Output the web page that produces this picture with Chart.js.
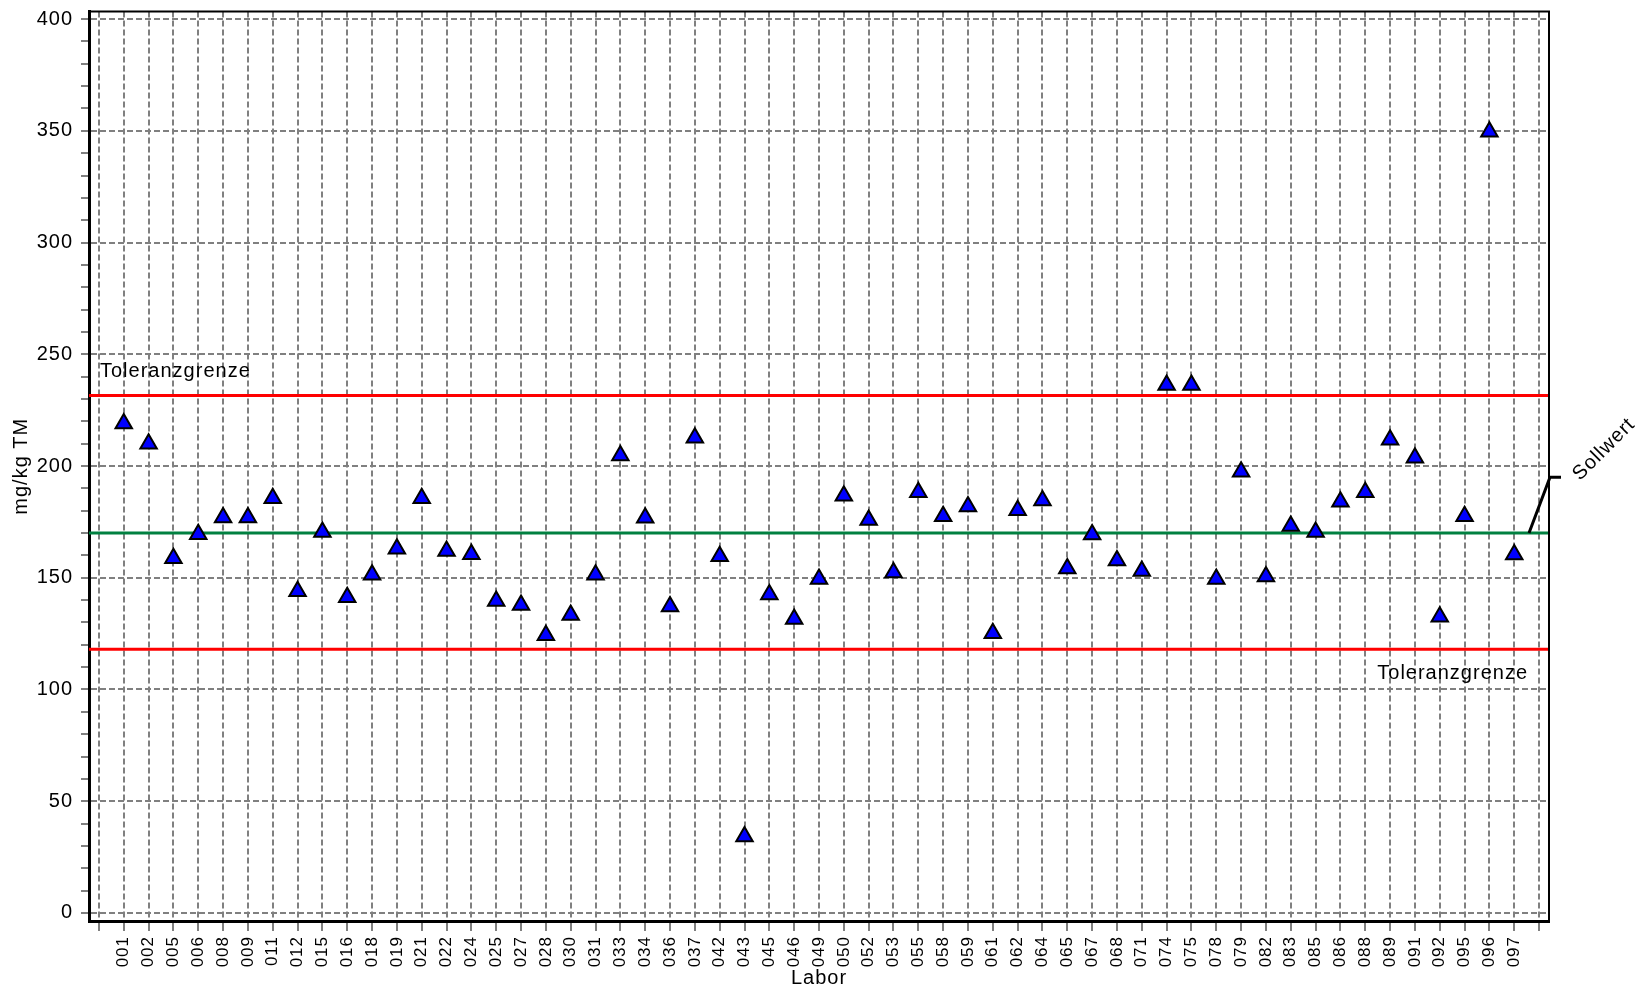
<!DOCTYPE html>
<html>
<head>
<meta charset="utf-8">
<title>Labor</title>
<script src="https://cdn.jsdelivr.net/npm/chart.js@4.4.1/dist/chart.umd.min.js"></script>
<style>
  html, body { margin: 0; padding: 0; background: #fff; }
  #wrap { position: relative; width: 1640px; height: 988px; }
</style>
</head>
<body>
<div id="wrap"><canvas id="chart"></canvas></div>
<script>
// Labornummern (leere Plätze am Anfang und Ende wie im Original)
const labs = ['001', '002', '005', '006', '008', '009', '011', '012', '015', '016',
  '018', '019', '021', '022', '024', '025', '027', '028', '030', '031',
  '033', '034', '036', '037', '042', '043', '045', '046', '049', '050',
  '052', '053', '055', '058', '059', '061', '062', '064', '065', '067',
  '068', '071', '074', '075', '078', '079', '082', '083', '085', '086',
  '088', '089', '091', '092', '095', '096', '097'];
const xLabels = [''].concat(labs, ['']);

// Messwerte in mg/kg TM, eine Zahl pro Labor
const werte = [219, 210, 158.7, 169.5, 177, 177, 185.6, 144, 170.5, 141.3,
  151.4, 163, 185.6, 162, 160.5, 139.6, 137.8, 124.3, 133.3, 151.4,
  204.7, 176.8, 137.1, 212.7, 159.6, 34.2, 142.5, 131.5, 149.5, 186.7,
  175.9, 152.3, 188.3, 177.5, 181.9, 125.2, 180.2, 184.6, 154.1, 169.4,
  157.7, 153.0, 236.3, 236.3, 149.5, 197.4, 150.6, 173.2, 170.5, 184.0,
  188.3, 211.8, 203.7, 132.6, 177.5, 349.6, 160.4];

const sollwert = 170;
const tolOben = 231.6;
const tolUnten = 118;

const yLabels = [0, 50, 100, 150, 200, 250, 300, 350, 400];
const yMinorStep = 10;
const yTickVals = [];
for (let v = yLabels[0]; v <= yLabels[yLabels.length - 1]; v += yMinorStep) yTickVals.push(v);

const xMin = -0.4, xMax = xLabels.length - 1 + 0.4;
const family = '"Liberation Sans", Arial, sans-serif';
const gridGray = '#808080';

// etwas gesperrte Schrift wie im Original
const spacing = {
  id: 'spacing',
  beforeUpdate(chart) { chart.ctx.letterSpacing = '1px'; },
  beforeDraw(chart) { chart.ctx.letterSpacing = '1px'; }
};

const annotate = {
  id: 'annotate',
  afterDatasetsDraw(chart) {
    const { ctx, chartArea: a, scales: { y } } = chart;
    ctx.save();
    // Rahmen oben und rechts
    ctx.strokeStyle = '#000';
    ctx.lineWidth = 2;
    ctx.beginPath();
    ctx.moveTo(a.left, a.top);
    ctx.lineTo(a.right, a.top);
    ctx.lineTo(a.right, a.bottom);
    ctx.stroke();

    ctx.font = '20px ' + family;
    ctx.fillStyle = '#000';
    ctx.letterSpacing = '1px';
    ctx.textBaseline = 'alphabetic';
    ctx.textAlign = 'left';
    ctx.fillText('Toleranzgrenze', a.left + 11, y.getPixelForValue(tolOben) - 18);
    ctx.textAlign = 'right';
    ctx.fillText('Toleranzgrenze', a.right - 21, y.getPixelForValue(tolUnten) + 30);

    // Sollwert-Beschriftung mit Hinweislinie
    const ys = y.getPixelForValue(sollwert);
    const yk = y.getPixelForValue(195);
    ctx.lineWidth = 3;
    ctx.beginPath();
    ctx.moveTo(a.right - 20, ys);
    ctx.lineTo(a.right + 1, yk);
    ctx.lineTo(a.right + 12, yk);
    ctx.stroke();
    ctx.translate(a.right + 31, yk + 4);
    ctx.rotate(-Math.PI / 4);
    ctx.textAlign = 'left';
    ctx.fillText('Sollwert', 0, 0);
    ctx.restore();
  }
};

function hLine(val, color) {
  return {
    type: 'line',
    data: [{ x: xMin, y: val }, { x: xMax, y: val }],
    borderColor: color,
    borderWidth: 3,
    pointRadius: 0,
    pointHoverRadius: 0,
    order: 1
  };
}

new Chart(document.getElementById('chart'), {
  type: 'scatter',
  data: {
    datasets: [
      {
        label: 'Labor',
        data: werte.map((v, i) => ({ x: i + 1, y: v })),
        pointStyle: 'triangle',
        pointRadius: 9.5,
        pointHoverRadius: 9.5,
        backgroundColor: '#0000FF',
        borderColor: '#000',
        borderWidth: 2,
        order: 0
      },
      hLine(tolOben, '#FF0000'),
      hLine(tolUnten, '#FF0000'),
      hLine(sollwert, '#008040')
    ]
  },
  options: {
    responsive: true,
    maintainAspectRatio: false,
    animation: false,
    layout: { padding: { top: 11, right: 91, bottom: 0, left: 0 } },
    plugins: {
      legend: { display: false },
      tooltip: { enabled: false }
    },
    scales: {
      x: {
        type: 'linear',
        min: xMin,
        max: xMax,
        afterBuildTicks: s => { s.ticks = xLabels.map((_, i) => ({ value: i })); },
        afterFit: s => { s.height = 67; s.paddingLeft = 0; s.paddingRight = 0; },
        ticks: {
          autoSkip: false,
          minRotation: 90,
          maxRotation: 90,
          padding: 5,
          color: '#000',
          font: { size: 17, family },
          callback: v => xLabels[v] ?? ''
        },
        grid: { color: gridGray, lineWidth: 2, tickLength: 10, tickColor: gridGray, tickWidth: 2 },
        border: { display: true, color: '#000', width: 3, dash: [6, 3] },
        title: { display: true, text: 'Labor', color: '#000', font: { size: 20, family, lineHeight: 1 }, padding: 0 }
      },
      y: {
        min: -3.6,
        max: 403.4,
        afterBuildTicks: s => { s.ticks = yTickVals.map(v => ({ value: v })); },
        afterFit: s => { s.width = 89; s.paddingTop = 0; s.paddingBottom = 0; },
        ticks: {
          autoSkip: false,
          padding: 8,
          color: '#000',
          font: { size: 20, family },
          callback: v => yLabels.includes(v) ? String(v) : ''
        },
        grid: {
          color: c => (c.tick && yLabels.includes(c.tick.value)) ? gridGray : 'rgba(0,0,0,0)',
          lineWidth: 2,
          tickLength: 8,
          tickColor: gridGray,
          tickWidth: 2
        },
        border: { display: true, color: '#000', width: 3, dash: [6, 3] },
        title: { display: true, text: 'mg/kg TM', color: '#000', font: { size: 20, family }, padding: { top: 9, bottom: 0 } }
      }
    }
  },
  plugins: [spacing, annotate]
});
</script>
</body>
</html>
